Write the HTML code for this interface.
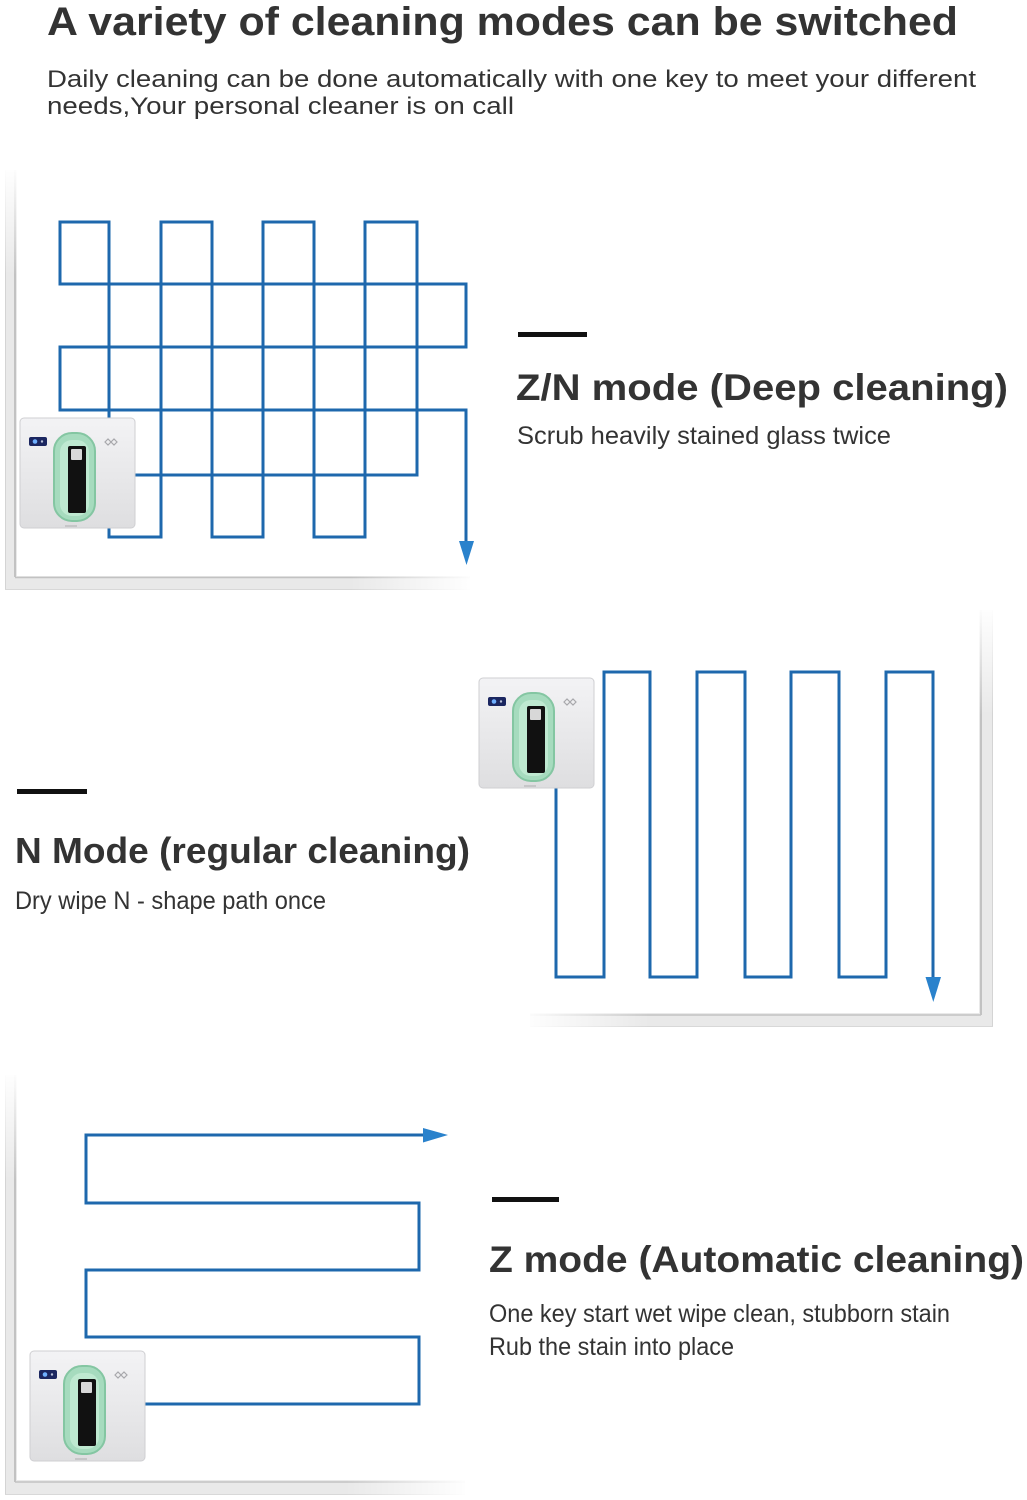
<!DOCTYPE html>
<html>
<head>
<meta charset="utf-8">
<style>
  html,body{margin:0;padding:0;background:#fff;}
  svg{display:block;}
  text{font-family:"Liberation Sans", Arial, sans-serif;}
</style>
</head>
<body>
<svg width="1027" height="1500" viewBox="0 0 1027 1500" xmlns="http://www.w3.org/2000/svg">
  <defs>
    <linearGradient id="bodyG" x1="0" y1="0" x2="0" y2="1">
      <stop offset="0" stop-color="#f3f3f5"/>
      <stop offset="1" stop-color="#dedee0"/>
    </linearGradient>
    <linearGradient id="fadeDown" x1="0" y1="0" x2="0" y2="1">
      <stop offset="0" stop-color="#fff" stop-opacity="1"/>
      <stop offset="1" stop-color="#fff" stop-opacity="0"/>
    </linearGradient>
    <linearGradient id="fadeRight" x1="0" y1="0" x2="1" y2="0">
      <stop offset="0" stop-color="#fff" stop-opacity="0"/>
      <stop offset="1" stop-color="#fff" stop-opacity="1"/>
    </linearGradient>
    <linearGradient id="fadeLeft" x1="0" y1="0" x2="1" y2="0">
      <stop offset="0" stop-color="#fff" stop-opacity="1"/>
      <stop offset="1" stop-color="#fff" stop-opacity="0"/>
    </linearGradient>
    <g id="robot">
      <rect x="0" y="0" width="115" height="110" rx="4" fill="url(#bodyG)" stroke="#cfcfd2" stroke-width="1"/>
      <rect x="9" y="19" width="18" height="9" rx="2" fill="#1b2660"/>
      <circle cx="15" cy="23.5" r="2.3" fill="#6fb0ff"/>
      <circle cx="22" cy="23.5" r="1.2" fill="#b8c0d8"/>
      <rect x="34" y="15" width="41" height="88" rx="18" fill="#a6dbbe" stroke="#84c6a2" stroke-width="2"/>
      <rect x="40" y="22" width="29" height="76" rx="12" fill="#bfe9d1"/>
      <rect x="48" y="28" width="18" height="67" rx="2" fill="#111"/>
      <rect x="51" y="31" width="11" height="11" rx="1" fill="#d8d8d8"/>
      <path d="M85 24 l3 -3 l3 3 l-3 3 z M91 24 l3 -3 l3 3 l-3 3 z" fill="none" stroke="#a8a8ac" stroke-width="1.2"/>
      <rect x="45" y="107" width="12" height="2" fill="#c6c6c8"/>
    </g>
  </defs>

  <rect width="1027" height="1500" fill="#fff"/>

  <!-- Header -->
  <text x="47" y="35" font-size="40" font-weight="bold" fill="#333" textLength="911" lengthAdjust="spacingAndGlyphs">A variety of cleaning modes can be switched</text>
  <text x="47" y="87" font-size="24" fill="#333" textLength="929" lengthAdjust="spacingAndGlyphs">Daily cleaning can be done automatically with one key to meet your different</text>
  <text x="47" y="114" font-size="24" fill="#333" textLength="467" lengthAdjust="spacingAndGlyphs">needs,Your personal cleaner is on call</text>

  <!-- ===== Frame 1 ===== -->
  <g>
    <rect x="5" y="170" width="12" height="420" fill="#e9e9e9"/>
    <rect x="5" y="576" width="465" height="14" fill="#e9e9e9"/>
    <line x1="5.5" y1="170" x2="5.5" y2="590" stroke="#d4d4d4" stroke-width="1"/>
    <line x1="15" y1="170" x2="15" y2="577" stroke="#b9b9b9" stroke-width="1.6"/>
    <line x1="15" y1="577.5" x2="470" y2="577.5" stroke="#c2c2c2" stroke-width="1.6"/>
    <line x1="5" y1="589.5" x2="470" y2="589.5" stroke="#d8d8d8" stroke-width="1"/>
    <rect x="0" y="165" width="25" height="110" fill="url(#fadeDown)"/>
    <rect x="350" y="570" width="125" height="25" fill="url(#fadeRight)"/>
  </g>

  <!-- Diagram 1 paths -->
  <g stroke="#1e68ad" stroke-width="3" fill="none" stroke-linecap="square">
    <path d="M60 222 V284 M60 347 V410"/>
    <path d="M109 222 V537 M161 222 V537 M212 222 V537 M263 222 V537 M314 222 V537 M365 222 V537"/>
    <path d="M417 222 V475"/>
    <path d="M60 222 H109 M161 222 H212 M263 222 H314 M365 222 H417"/>
    <path d="M60 284 H466 M60 347 H466 M60 410 H466"/>
    <path d="M130 475 H417"/>
    <path d="M109 537 H161 M212 537 H263 M314 537 H365"/>
    <path d="M466 284 V347 M466 410 V545"/>
  </g>
  <polygon points="459,541 474,541 466.5,565" fill="#2a82cc"/>
  <use href="#robot" x="20" y="418"/>

  <!-- Z/N text -->
  <rect x="518" y="332" width="69" height="5" fill="#111"/>
  <text x="516" y="400" font-size="37" font-weight="bold" fill="#333" textLength="492" lengthAdjust="spacingAndGlyphs">Z/N mode (Deep cleaning)</text>
  <text x="517" y="444" font-size="25" fill="#333" textLength="374" lengthAdjust="spacingAndGlyphs">Scrub heavily stained glass twice</text>

  <!-- ===== Frame 2 ===== -->
  <g>
    <rect x="979" y="610" width="14" height="417" fill="#e9e9e9"/>
    <rect x="530" y="1013" width="463" height="14" fill="#e9e9e9"/>
    <line x1="992.5" y1="610" x2="992.5" y2="1027" stroke="#d4d4d4" stroke-width="1"/>
    <line x1="981" y1="610" x2="981" y2="1015" stroke="#b9b9b9" stroke-width="1.6"/>
    <line x1="530" y1="1015" x2="981" y2="1015" stroke="#c2c2c2" stroke-width="1.6"/>
    <line x1="530" y1="1026.5" x2="993" y2="1026.5" stroke="#d8d8d8" stroke-width="1"/>
    <rect x="970" y="605" width="30" height="110" fill="url(#fadeDown)"/>
    <rect x="520" y="1008" width="130" height="22" fill="url(#fadeLeft)"/>
  </g>

  <!-- Diagram 2 paths -->
  <g stroke="#1e68ad" stroke-width="3" fill="none" stroke-linecap="square">
    <path d="M556 788 V977"/>
    <path d="M604 672 V977 M650 672 V977 M697 672 V977 M745 672 V977 M791 672 V977 M839 672 V977 M886 672 V977"/>
    <path d="M933 672 V982"/>
    <path d="M604 672 H650 M697 672 H745 M791 672 H839 M886 672 H933"/>
    <path d="M556 977 H604 M650 977 H697 M745 977 H791 M839 977 H886"/>
  </g>
  <polygon points="925.5,977 941,977 933.3,1002" fill="#2a82cc"/>
  <use href="#robot" x="479" y="678"/>

  <!-- N Mode text -->
  <rect x="17" y="789" width="70" height="5" fill="#111"/>
  <text x="15" y="863" font-size="36" font-weight="bold" fill="#333" textLength="455" lengthAdjust="spacingAndGlyphs">N Mode (regular cleaning)</text>
  <text x="15" y="909" font-size="25" fill="#333" textLength="311" lengthAdjust="spacingAndGlyphs">Dry wipe N - shape path once</text>

  <!-- ===== Frame 3 ===== -->
  <g>
    <rect x="5" y="1075" width="12" height="420" fill="#e9e9e9"/>
    <rect x="5" y="1480" width="460" height="15" fill="#e9e9e9"/>
    <line x1="5.5" y1="1075" x2="5.5" y2="1495" stroke="#d4d4d4" stroke-width="1"/>
    <line x1="15" y1="1075" x2="15" y2="1482" stroke="#b9b9b9" stroke-width="1.6"/>
    <line x1="15" y1="1482" x2="465" y2="1482" stroke="#c2c2c2" stroke-width="1.6"/>
    <line x1="5" y1="1494.5" x2="465" y2="1494.5" stroke="#d8d8d8" stroke-width="1"/>
    <rect x="0" y="1070" width="25" height="110" fill="url(#fadeDown)"/>
    <rect x="345" y="1475" width="125" height="25" fill="url(#fadeRight)"/>
  </g>

  <!-- Diagram 3 paths -->
  <g stroke="#1e68ad" stroke-width="3" fill="none" stroke-linecap="square">
    <path d="M86 1135 H428"/>
    <path d="M86 1135 V1203 H419 V1270 H86 V1337 H419 V1404 H140"/>
  </g>
  <polygon points="423,1128 423,1142.5 448,1135" fill="#2a82cc"/>
  <use href="#robot" x="30" y="1351"/>

  <!-- Z mode text -->
  <rect x="492" y="1197" width="67" height="5" fill="#111"/>
  <text x="489" y="1272" font-size="37" font-weight="bold" fill="#333" textLength="535" lengthAdjust="spacingAndGlyphs">Z mode (Automatic cleaning)</text>
  <text x="489" y="1322" font-size="25" fill="#333" textLength="461" lengthAdjust="spacingAndGlyphs">One key start wet wipe clean, stubborn stain</text>
  <text x="489" y="1355" font-size="25" fill="#333" textLength="245" lengthAdjust="spacingAndGlyphs">Rub the stain into place</text>
</svg>
</body>
</html>
